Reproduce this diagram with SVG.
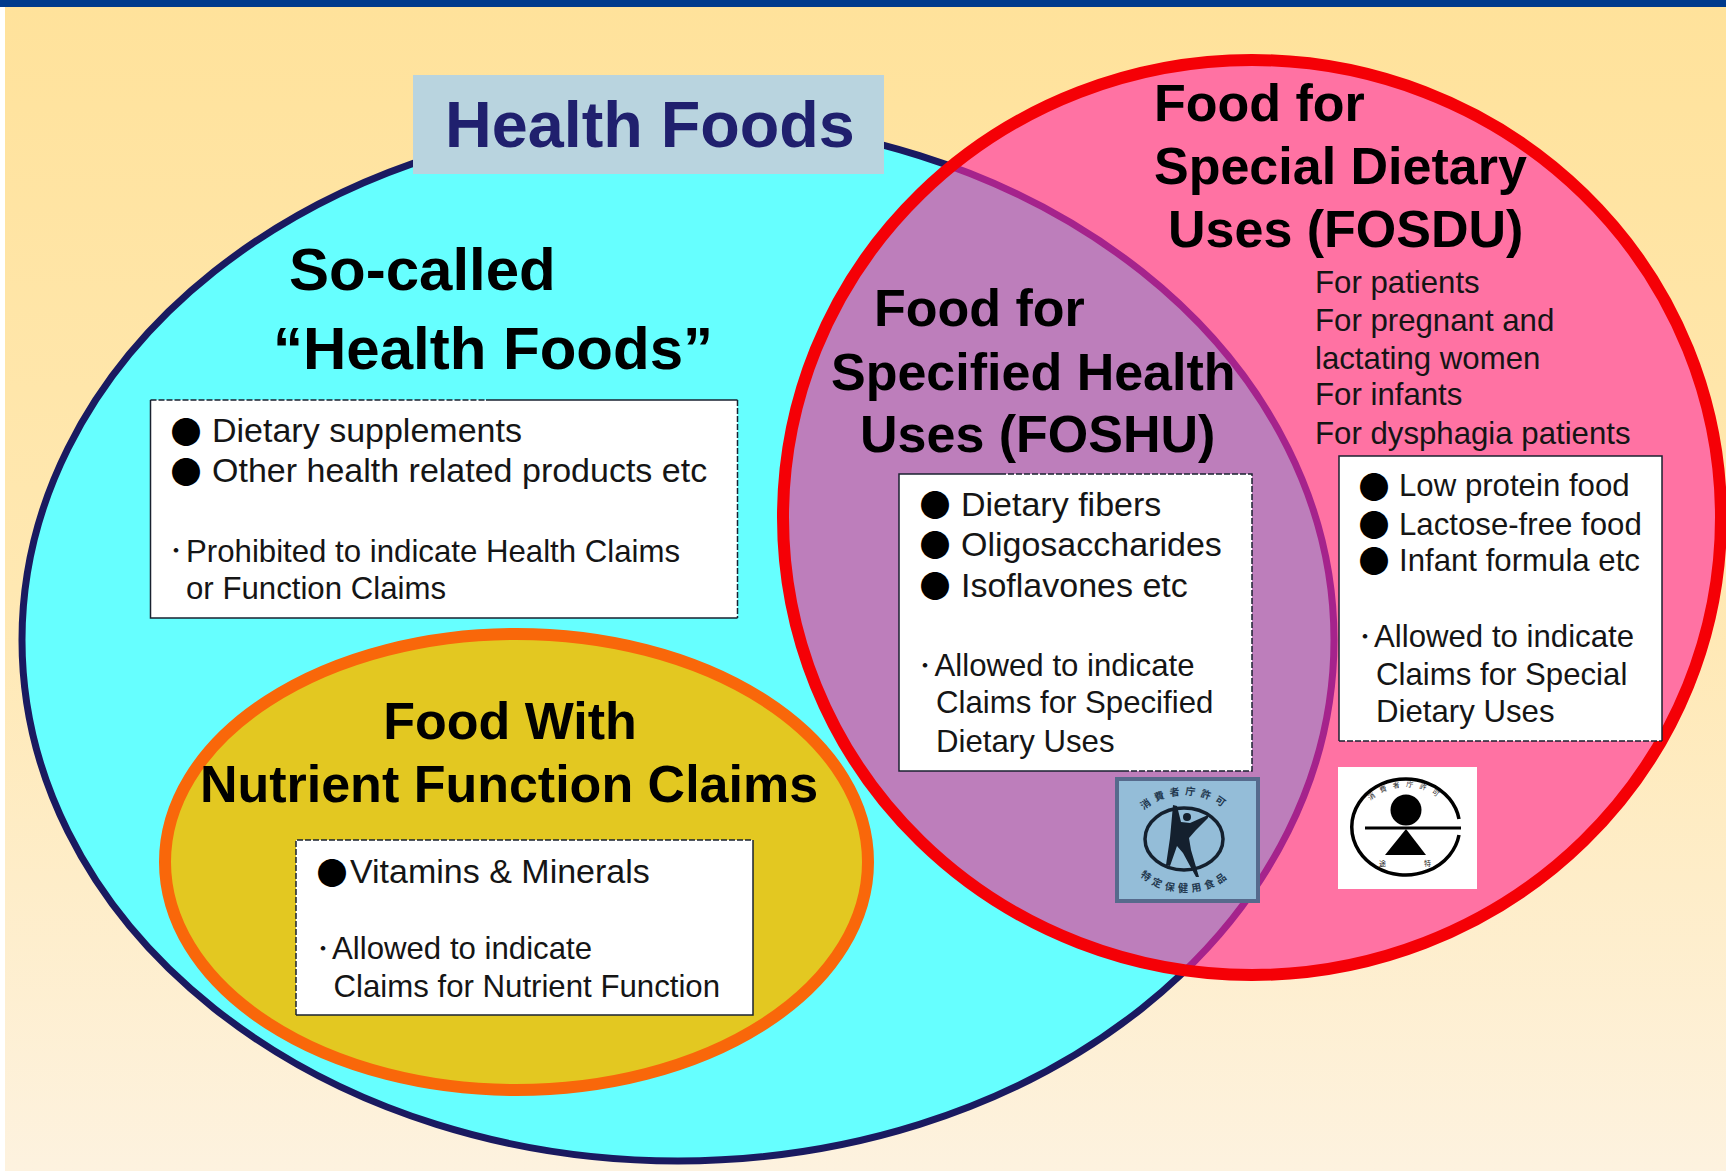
<svg xmlns="http://www.w3.org/2000/svg" width="1726" height="1171" viewBox="0 0 1726 1171">
<style>
text{font-family:"Liberation Sans",Arial,sans-serif;fill:#151515}
.h{font-size:52px;font-weight:700;fill:#000}
.hl{font-size:60px;font-weight:700;fill:#000}
.b{font-size:34px}
.c{font-size:31.2px}
.d{font-family:"Noto Sans CJK JP","Liberation Sans",sans-serif;font-size:31px;fill:#000}
.s{font-family:"Noto Sans CJK JP","Liberation Sans",sans-serif;font-size:18px;font-weight:700;fill:#111}
.fill{fill:#fff}
.sol{fill:none;stroke:#1a2230;stroke-width:1.500}
.das{fill:none;stroke:#1a2230;stroke-width:1.500;stroke-dasharray:6 2}
.m{font-family:"Noto Sans CJK JP",sans-serif;font-size:10px;fill:#22384f;font-weight:700}
.n{font-family:"Noto Sans CJK JP",sans-serif;font-size:7px;fill:#222}
</style>
<defs>
<linearGradient id="bg" x1="0" y1="0" x2="0" y2="1"><stop offset="0" stop-color="#FFE29B"/><stop offset="0.5" stop-color="#FFE8B2"/><stop offset="1" stop-color="#FDF2DF"/></linearGradient>
<clipPath id="inBig"><ellipse cx="678" cy="640" rx="656" ry="521"/></clipPath>
<clipPath id="inRed"><ellipse cx="1252" cy="517.500" rx="469" ry="457.500"/></clipPath>
<path id="t1" d="M1133 835A52 40 0 0 1 1237 835"/>
<path id="t2" d="M1128 850A57 42 0 0 0 1242 850"/>
<path id="t3" d="M1360 825A46 38 0 0 1 1452 825"/>
</defs>
<rect width="1726" height="1171" fill="#fff"/>
<rect x="5" y="7" width="1721" height="1164" fill="url(#bg)"/>
<rect width="1726" height="7" fill="#003A8C"/>
<g id="health-foods-region">
<ellipse cx="678" cy="640" rx="656" ry="521" fill="#66FFFF" stroke="#1A1A60" stroke-width="7"/>
</g>
<g id="fosdu-region">
<ellipse cx="1252" cy="517.500" rx="469" ry="457.500" fill="#FF72A3"/>
</g>
<g id="foshu-region">
<ellipse cx="1252" cy="517.500" rx="469" ry="457.500" fill="#BD7EBB" clip-path="url(#inBig)"/>
<g clip-path="url(#inRed)"><ellipse cx="678" cy="640" rx="656" ry="521" fill="none" stroke="#A5238C" stroke-width="7"/></g>
<ellipse cx="1252" cy="517.500" rx="469" ry="457.500" fill="none" stroke="#F50006" stroke-width="12"/>
</g>
<g id="nutrient-region">
<ellipse cx="516.500" cy="862" rx="351.500" ry="228" fill="#E3C821" stroke="#F9670A" stroke-width="12"/>
</g>
<g id="title">
<rect x="413" y="75" width="471" height="99" fill="#B9D4DF"/>
<text x="445" y="147" font-size="64.700" font-weight="700" style="fill:#20206E">Health Foods</text>
</g>
<g id="so-called">
<text class="hl" x="289" y="290">So-called</text>
<text class="hl" x="273" y="369">“Health Foods”</text>
<rect class="fill" x="150.500" y="400" width="587" height="218"/>
<path class="sol" d="M486 400H737.500M150.500 400V618H737.500"/>
<path class="das" d="M150.500 400H486M737.500 400V618"/>
<text class="d" x="186" y="443" text-anchor="middle">●</text>
<text class="d" x="186" y="483" text-anchor="middle">●</text>
<text class="b" x="212" y="442">Dietary supplements</text>
<text class="b" x="212" y="482">Other health related products etc</text>
<text class="s" x="167" y="557">・</text>
<text class="c" x="186" y="562">Prohibited to indicate Health Claims</text>
<text class="c" x="186" y="599">or Function Claims</text>
</g>
<g id="nutrient">
<text class="h" x="510" y="739" text-anchor="middle">Food With</text>
<text class="h" x="509" y="802" text-anchor="middle">Nutrient Function Claims</text>
<rect class="fill" x="296" y="840" width="457" height="175"/>
<path class="sol" d="M753 840V1015H296"/>
<path class="das" d="M296 1015V840H753"/>
<text class="d" x="332" y="884" text-anchor="middle">●</text>
<text class="b" x="350" y="883">Vitamins &amp; Minerals</text>
<text class="s" x="314" y="955">・</text>
<text class="c" x="332" y="959">Allowed to indicate</text>
<text class="c" x="333.500" y="997">Claims for Nutrient Function</text>
</g>
<g id="foshu">
<text class="h" x="874" y="326">Food for</text>
<text class="h" x="831" y="390">Specified Health</text>
<text class="h" x="860" y="452">Uses (FOSHU)</text>
<rect class="fill" x="899" y="474" width="353" height="297"/>
<path class="sol" d="M1123 771H899V474H1000"/>
<path class="das" d="M1000 474H1252V771H1123"/>
<text class="d" x="935" y="516" text-anchor="middle">●</text>
<text class="d" x="935" y="556" text-anchor="middle">●</text>
<text class="d" x="935" y="597" text-anchor="middle">●</text>
<text class="b" x="961" y="516">Dietary fibers</text>
<text class="b" x="961" y="556">Oligosaccharides</text>
<text class="b" x="961" y="597">Isoflavones etc</text>
<text class="s" x="916" y="672">・</text>
<text class="c" x="934.500" y="676">Allowed to indicate</text>
<text class="c" x="936" y="713">Claims for Specified</text>
<text class="c" x="936" y="752">Dietary Uses</text>
</g>
<g id="fosdu">
<text class="h" x="1154" y="121">Food for</text>
<text class="h" x="1154" y="184">Special Dietary</text>
<text class="h" x="1168" y="247">Uses (FOSDU)</text>
<text class="c" x="1315" y="293">For patients</text>
<text class="c" x="1315" y="331">For pregnant and</text>
<text class="c" x="1315" y="369">lactating women</text>
<text class="c" x="1315" y="405">For infants</text>
<text class="c" x="1315" y="444">For dysphagia patients</text>
<rect class="fill" x="1339" y="456" width="323" height="285"/>
<path class="sol" d="M1339 741V456H1662V741"/>
<path class="das" d="M1339 741H1662"/>
<text class="d" x="1374" y="498" text-anchor="middle">●</text>
<text class="d" x="1374" y="536" text-anchor="middle">●</text>
<text class="d" x="1374" y="572" text-anchor="middle">●</text>
<text class="c" x="1399" y="496">Low protein food</text>
<text class="c" x="1399" y="535">Lactose-free food</text>
<text class="c" x="1399" y="571">Infant formula etc</text>
<text class="s" x="1356" y="643">・</text>
<text class="c" x="1374" y="647">Allowed to indicate</text>
<text class="c" x="1376" y="685">Claims for Special</text>
<text class="c" x="1376" y="722">Dietary Uses</text>
</g>
<g id="foshu-mark">
<rect x="1117" y="779" width="141" height="122" fill="#94BDD8" stroke="#566A8C" stroke-width="4"/>
<ellipse cx="1184" cy="839" rx="39" ry="31" fill="none" stroke="#14202e" stroke-width="3.500"/>
<circle cx="1187" cy="817" r="4" fill="#14202e"/>
<path d="M1173 805L1177 806L1181 822L1190 823L1208 815L1208 818L1196 830L1189 838L1191 850L1199 877L1196 877L1183 853L1177 846L1170 866L1166 865L1170 838Z" fill="#14202e"/>
<text class="m"><textPath href="#t1" startOffset="50%" text-anchor="middle" letter-spacing="5">消費者庁許可</textPath></text>
<text class="m"><textPath href="#t2" startOffset="50%" text-anchor="middle" letter-spacing="4">特定保健用食品</textPath></text>
</g>
<g id="fosdu-mark">
<rect x="1338" y="767" width="139" height="122" fill="#fff"/>
<path d="M1459 819A54 48 0 1 0 1459 835" fill="none" stroke="#000" stroke-width="3.500"/>
<circle cx="1406" cy="810" r="15.500" fill="#000"/>
<rect x="1365" y="826.500" width="96" height="3" fill="#000"/>
<path d="M1406 829L1426 855H1385Z" fill="#000"/>
<text class="n"><textPath href="#t3" startOffset="50%" text-anchor="middle" letter-spacing="6">消費者庁許可</textPath></text>
<text class="n" x="1379" y="866">途</text>
<text class="n" x="1424" y="866">特</text>
</g>
</svg>
